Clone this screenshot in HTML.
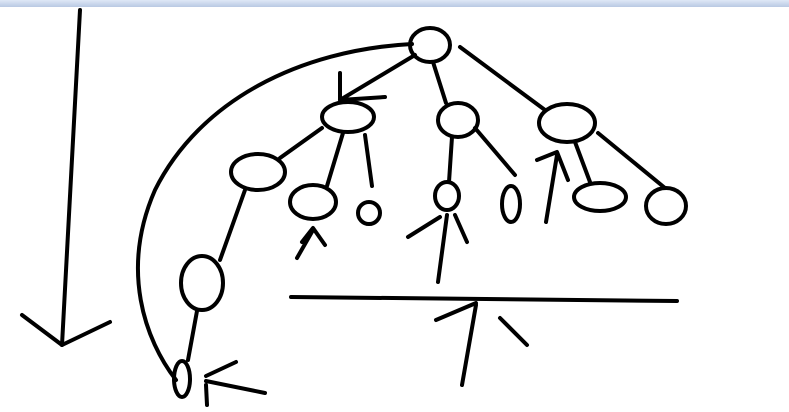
<!DOCTYPE html>
<html><head><meta charset="utf-8"><style>
html,body{margin:0;padding:0;background:#fff;width:789px;height:412px;overflow:hidden}
svg{display:block}
</style></head><body>
<svg width="789" height="412" viewBox="0 0 789 412">
<defs><linearGradient id="tb" x1="0" y1="0" x2="0" y2="1"><stop offset="0" stop-color="#dfe8f6"/><stop offset="1" stop-color="#b9c9e3"/></linearGradient></defs>
<rect x="0" y="0" width="789" height="7" fill="url(#tb)"/>
<g fill="none" stroke="#000" stroke-width="4" stroke-linecap="round" stroke-linejoin="round">
<g>
<path d="M80 10 L62 345"/><path d="M22 315 L62 345 L110 322"/></g>
<ellipse cx="430" cy="45" rx="20" ry="17"/>
<path d="M412 44 C300 50 200 100 155 190 C120 270 145 340 176 380"/>
<path d="M415 55 L340 100 M340 73 L340 100 L385 97"/>
<ellipse cx="348" cy="117" rx="26" ry="15"/>
<path d="M433 62 L446 103"/>
<ellipse cx="458" cy="120" rx="20" ry="17"/>
<path d="M460 47 L545 110"/>
<ellipse cx="567" cy="123" rx="28" ry="19"/>
<path d="M322 128 L280 158"/>
<ellipse cx="258" cy="172" rx="27" ry="18"/>
<path d="M343 133 L327 186"/>
<ellipse cx="313" cy="202" rx="23" ry="17"/>
<path d="M365 135 L372 186"/>
<circle cx="369" cy="213" r="11"/>
<path d="M452 137 L449 182"/>
<ellipse cx="447" cy="196" rx="12" ry="14"/>
<path d="M475 128 L515 175"/>
<ellipse cx="511" cy="204" rx="9" ry="18"/>
<path d="M575 142 L590 182"/>
<ellipse cx="600" cy="197" rx="26" ry="14"/>
<path d="M598 133 L665 188"/>
<ellipse cx="666" cy="206" rx="20" ry="18"/>
<path d="M546 222 L557 155 M537 160 L557 152 L568 180"/>
<path d="M297 258 L313 230 M302 242 L313 228 L325 245"/>
<path d="M408 237 L440 217 M455 215 L467 242 M438 282 L447 215"/>
<path d="M245 190 L220 260"/>
<ellipse cx="202" cy="283" rx="21" ry="27"/>
<path d="M197 311 L188 360"/>
<ellipse cx="182" cy="379" rx="8" ry="18"/>
<path d="M206 376 L236 362 M206 381 L265 393 M206 385 L207 405"/>
<path d="M291 297 L677 301"/>
<path d="M462 385 L476 305 M436 320 L476 303 M500 318 L527 345"/>
</g>
</svg>
</body></html>
